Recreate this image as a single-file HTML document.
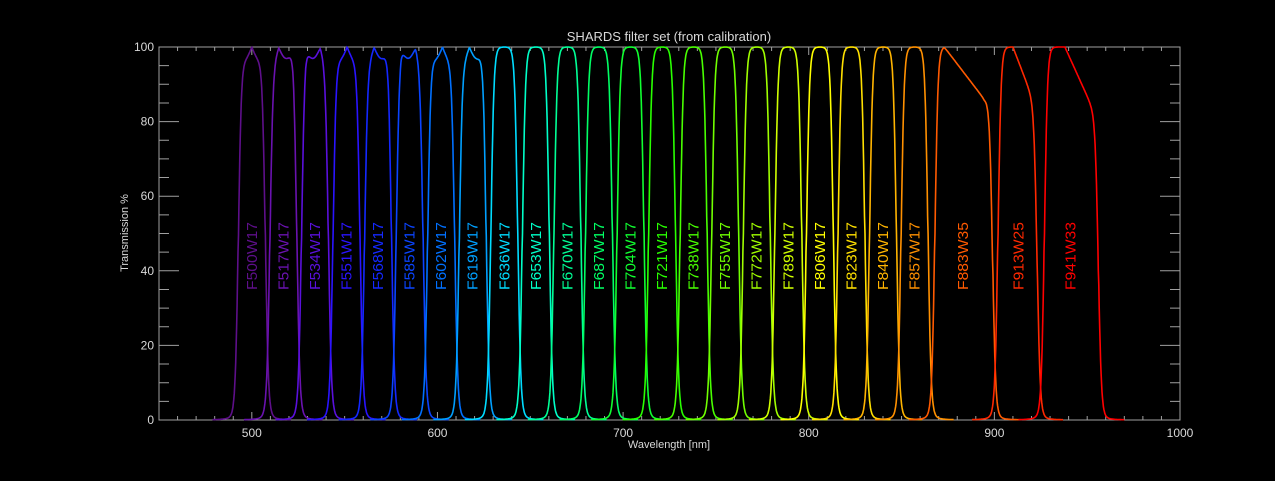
<!DOCTYPE html>
<html><head><meta charset="utf-8"><style>
html,body{margin:0;padding:0;background:#000;}
svg{display:block;font-family:"Liberation Sans","DejaVu Sans",sans-serif;}
</style></head><body>
<svg id="s" width="1275" height="481" viewBox="0 0 1275 481" xmlns="http://www.w3.org/2000/svg">
<rect width="1275" height="481" fill="#000"/>
<g id="ax" stroke="#a0a0a0" stroke-width="1" fill="none"></g>
<g id="lab" fill="#d8d8d8" font-size="12"></g>
<g id="cur" fill="none" stroke-width="1.6"></g>
<g id="txt" font-size="15"></g>
<text x="669" y="41" fill="#d8d8d8" font-size="13" text-anchor="middle">SHARDS filter set (from calibration)</text>
<text x="669" y="448" fill="#d8d8d8" font-size="11" text-anchor="middle">Wavelength [nm]</text>
<text transform="translate(128,233) rotate(-90)" fill="#d8d8d8" font-size="11" text-anchor="middle">Transmission %</text>
</svg>
<script>
const NS="http://www.w3.org/2000/svg";
const L=159,R=1180,T=47,B=420;
const X=l=>L+(l-450)*(R-L)/550, Y=v=>B-v*(B-T)/100;
function el(p,tag,a,t){const e=document.createElementNS(NS,tag);for(const k in a)e.setAttribute(k,a[k]);if(t)e.textContent=t;p.appendChild(e);return e;}
const ax=document.getElementById('ax'),lab=document.getElementById('lab');
el(ax,'rect',{x:L,y:T,width:R-L,height:B-T});
let d="";
for(let l=450;l<=1000;l+=10){const x=X(l),len=(l%100==0)?8:4;d+=`M${x} ${B}v${-len}M${x} ${T}v${len}`;}
for(let v=0;v<=100;v+=5){const y=Y(v),len=(v%20==0)?20:10;d+=`M${L} ${y}h${len}M${R} ${y}h${-len}`;}
el(ax,'path',{d});
for(let l=500;l<=1000;l+=100)el(lab,'text',{x:X(l),y:B+17,'text-anchor':'middle'},String(l));
for(let v=0;v<=100;v+=20)el(lab,'text',{x:L-5,y:Y(v)+4,'text-anchor':'end'},String(v));
const F=[[500,17,'#5e0f8a'],[517,17,'#6a12b0'],[534,17,'#5a10dc'],[551,17,'#2a14ff'],[568,17,'#1428ff'],[585,17,'#0a44ff'],[602,17,'#0070ff'],[619,17,'#00a0ff'],[636,17,'#00dcff'],[653,17,'#00ffc8'],[670,17,'#00ff96'],[687,17,'#00ff64'],[704,17,'#10ff30'],[721,17,'#28ff00'],[738,17,'#48ff00'],[755,17,'#70ff00'],[772,17,'#a0ff00'],[789,17,'#d0ff00'],[806,17,'#ffff00'],[823,17,'#ffe000'],[840,17,'#ffb400'],[857,17,'#ff9000'],[883,35,'#ff5a00'],[913,25,'#ff2800'],[941,33,'#ff0000']];
const cur=document.getElementById('cur'),txt=document.getElementById('txt');
F.forEach(([c,w,col],i)=>{
  let lo=c-w/2+1.3,hi=c+w/2-1.3;
  if(w==35){lo=868;hi=899;} if(w==25){lo=902;hi=923;} if(w==33){lo=927;hi=956;}
  const s=0.8;let p="";
  for(let l=lo-14;l<=hi+14;l+=0.25){
    let v=100/((1+Math.exp(-(l-lo)/s))*(1+Math.exp((l-hi)/s)));
    const dl=Math.min(Math.abs(l-lo),Math.abs(l-hi));
    v+=3/(1+(dl/2.5)**2)*(l<lo||l>hi?1:0);
    if(w==17&&i<8){v*=1-0.03*Math.abs(Math.sin((l-c)*0.4+i));}
    if(w==35){v*=l<873?1:Math.max(0.86,1-(l-873)*0.0065);}
    if(w==25){v*=l<910?1:Math.max(0.84,1-(l-910)*0.013);}
    if(w==33){v*=l<938?1:Math.max(0.8,1-(l-938)*0.011);}
    v=Math.min(v,100);
    p+=(p?'L':'M')+X(l).toFixed(1)+' '+Y(v).toFixed(1);
  }
  el(cur,'path',{d:p,stroke:col});
  const cx=X(c)+5;
  el(txt,'text',{transform:`translate(${cx},290) rotate(-90)`,fill:col,textLength:'68',lengthAdjust:'spacingAndGlyphs'},`F${c}W${w}`);
});
</script>
</body></html>
